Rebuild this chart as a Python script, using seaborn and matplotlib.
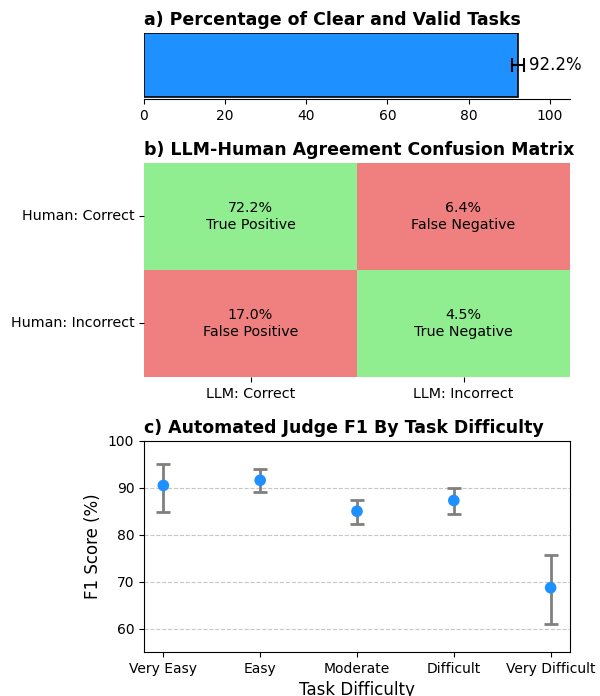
import numpy as np
import pandas as pd
import seaborn as sns
import matplotlib.pyplot as plt
from matplotlib.colors import ListedColormap

# a) clear and valid tasks
valid_pct = 92.2
valid_err = 1.4

# b) confusion matrix
row_labels = ["Human: Correct", "Human: Incorrect"]
col_labels = ["LLM: Correct", "LLM: Incorrect"]
cm_pct = [[72.2, 6.4], [17.0, 4.5]]
cm_names = [["True Positive", "False Negative"], ["False Positive", "True Negative"]]
cm_agree = [[1, 0], [0, 1]]

# c) F1 by difficulty
difficulty = ["Very Easy", "Easy", "Moderate", "Difficult", "Very Difficult"]
f1 = [90.5, 91.6, 85.0, 87.3, 68.7]
f1_low = [84.9, 89.1, 82.3, 84.4, 60.9]
f1_high = [95.1, 94.0, 87.5, 90.0, 75.6]

fig, axes = plt.subplots(3, 1, figsize=(6, 6.96), dpi=100,
                         gridspec_kw={'height_ratios': [66, 214, 211]})
plt.subplots_adjust(left=0.24, right=0.95, top=1 - 33 / 696, bottom=1 - 652 / 696, hspace=0.39)

# panel a
ax = axes[0]
df_a = pd.DataFrame({"task": ["Clear"], "pct": [valid_pct]})
sns.barplot(data=df_a, x="pct", y="task", orient="h", color="#1E90FF",
            edgecolor="black", linewidth=1.2, saturation=1, ax=ax, errorbar=None)
ax.errorbar(valid_pct, 0, xerr=valid_err, color="black", capsize=5, lw=1.5, capthick=1.5)
ax.text(valid_pct + valid_err + 1.4, 0, f"{valid_pct}%", va="center", ha="left", fontsize=12)
ax.set_xlim(0, 105)
ax.set_ylim(0.425, -0.4)
ax.set_yticks([])
ax.set_xlabel("")
ax.set_ylabel("")
for s in ["top", "right", "left"]:
    ax.spines[s].set_visible(False)
ax.set_title("a) Percentage of Clear and Valid Tasks", fontsize=12.5, fontweight="bold", loc="left")

# panel b
ax = axes[1]
annot = np.array([[f"{cm_pct[i][j]:.1f}%\n{cm_names[i][j]}" for j in range(2)] for i in range(2)])
sns.heatmap(np.array(cm_agree), annot=annot, fmt="", cbar=False,
            cmap=ListedColormap(["#F08080", "#90EE90"]),
            xticklabels=col_labels, yticklabels=row_labels,
            annot_kws={"fontsize": 10.3, "color": "black"}, ax=ax)
ax.tick_params(axis="both", labelsize=10.3)
ax.tick_params(axis="y", rotation=0)
ax.set_title("b) LLM-Human Agreement Confusion Matrix", fontsize=12.5, fontweight="bold", loc="left")

# panel c
ax = axes[2]
yerr = [np.array(f1) - np.array(f1_low), np.array(f1_high) - np.array(f1)]
ax.errorbar(difficulty, f1, yerr=yerr, fmt="none", ecolor="gray", elinewidth=2,
            capsize=5, capthick=2, zorder=2)
sns.scatterplot(x=difficulty, y=f1, color="#1E90FF", s=70, edgecolor="none", zorder=3, ax=ax)
ax.set_ylim(55, 100)
ax.set_yticks([60, 70, 80, 90, 100])
ax.grid(axis="y", linestyle="--", alpha=0.7, zorder=0)
ax.set_axisbelow(True)
ax.set_xlabel("Task Difficulty", fontsize=12)
ax.set_ylabel("F1 Score (%)", fontsize=12)
ax.set_title("c) Automated Judge F1 By Task Difficulty", fontsize=12.5, fontweight="bold", loc="left")

plt.savefig("out.png", dpi=100)
